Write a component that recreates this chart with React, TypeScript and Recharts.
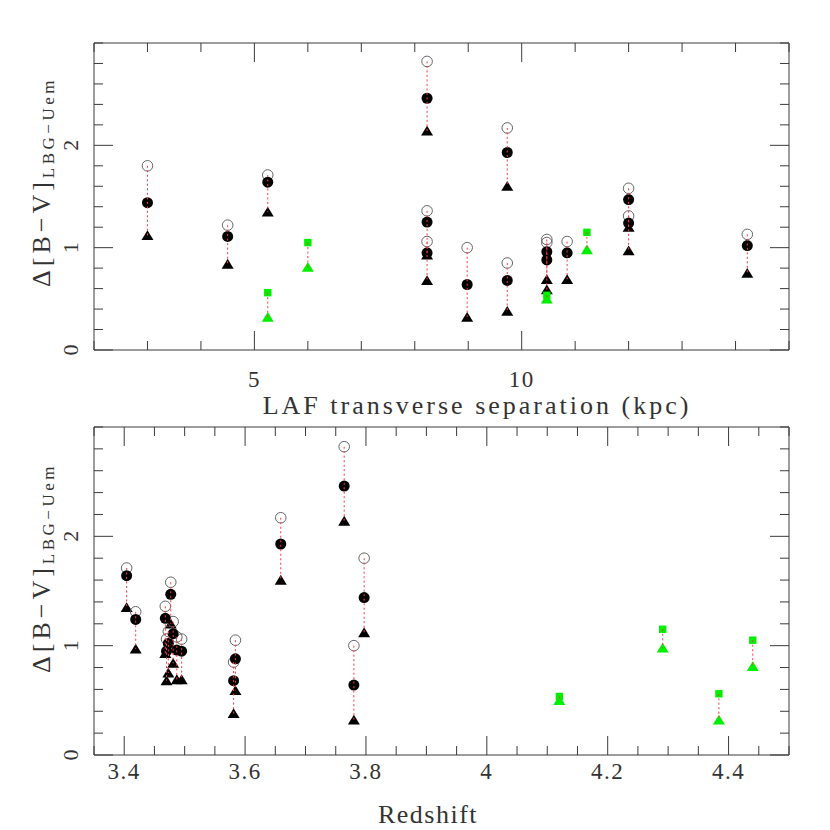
import React from "react";
import { ScatterChart, Scatter, XAxis, YAxis } from "recharts";

// one entry per LBG-absorber pair (black symbols)
const separation = [3.0, 4.5, 5.25, 8.23, 8.23, 8.23, 8.98, 9.73, 9.73, 10.47, 10.47, 10.85, 12.0, 12.0, 14.22];
const redshift = [3.797, 3.481, 3.404, 3.764, 3.468, 3.47, 3.78, 3.659, 3.581, 3.584, 3.487, 3.495, 3.477, 3.419, 3.473];
const openValues = [1.8, 1.22, 1.71, 2.82, 1.36, 1.06, 1.0, 2.17, 0.85, 1.05, 1.08, 1.06, 1.58, 1.31, 1.13];
const filledValues = [1.44, 1.11, 1.64, 2.46, 1.25, 0.95, 0.64, 1.93, 0.68, 0.88, 0.96, 0.95, 1.47, 1.24, 1.02];
const triangleValues = [1.12, 0.84, 1.35, 2.14, 0.93, 0.68, 0.32, 1.6, 0.38, 0.59, 0.69, 0.69, 1.2, 0.97, 0.75];

// green symbols
const greenSeparation = [5.25, 6.0, 10.47, 11.22];
const greenRedshift = [4.384, 4.44, 4.12, 4.291];
const greenSquareValues = [0.56, 1.05, 0.535, 1.15];
const greenTriangleValues = [0.32, 0.81, 0.5, 0.98];

const sepTicks = [2, 3, 4, 5, 6, 7, 8, 9, 10, 11, 12, 13, 14, 15];
const sepLabels = [5, 10];
const zTicks = [
  3.35, 3.4, 3.45, 3.5, 3.55, 3.6, 3.65, 3.7, 3.75, 3.8, 3.85, 3.9, 3.95, 4.0,
  4.05, 4.1, 4.15, 4.2, 4.25, 4.3, 4.35, 4.4, 4.45, 4.5,
];
const zLabels = [3.4, 3.6, 3.8, 4, 4.2, 4.4];
const colorTicks = [0, 0.2, 0.4, 0.6, 0.8, 1, 1.2, 1.4, 1.6, 1.8, 2, 2.2, 2.4, 2.6, 2.8, 3];
const colorLabels = [0, 1, 2];

const FRAME = "#3a3a3a";
const FONT = "Liberation Serif, Times New Roman, serif";
const GREEN = "#00f000";
const DOTTED = "#ff3b3b";

const isLabel = (labels: number[], v: number) => labels.some((l) => Math.abs(l - v) < 1e-6);

const OpenCircle = (p: any) => (
  <circle cx={p.cx} cy={p.cy} r={5.3} fill="none" stroke="#555" strokeWidth={0.9} />
);
const FilledCircle = (p: any) => <circle cx={p.cx} cy={p.cy} r={5.5} fill="#000" />;
const Triangle = (color: string) => (p: any) => (
  <polygon
    points={`${p.cx},${p.cy - 5.2} ${p.cx - 6},${p.cy + 4.6} ${p.cx + 6},${p.cy + 4.6}`}
    fill={color}
  />
);
const Square = (p: any) => (
  <rect x={p.cx - 3.7} y={p.cy - 3.7} width={7.4} height={7.4} fill={GREEN} />
);
const Nothing = () => <g />;

const bottomTick = (labels: number[], dy: number) => (p: any) => {
  const major = isLabel(labels, p.payload.value);
  return (
    <g>
      <line x1={p.x} y1={p.y} x2={p.x} y2={p.y - (major ? 19 : 9)} stroke={FRAME} />
      {major && (
        <text x={p.x} y={p.y + dy} textAnchor="middle" fontFamily={FONT} fontSize={23} letterSpacing={1.5} fill="#333">
          {p.payload.value}
        </text>
      )}
    </g>
  );
};
const topTick = (labels: number[]) => (p: any) => {
  const major = isLabel(labels, p.payload.value);
  return <line x1={p.x} y1={p.y} x2={p.x} y2={p.y + (major ? 19 : 9)} stroke={FRAME} />;
};
const leftTick = (p: any) => {
  const major = isLabel(colorLabels, p.payload.value);
  const tx = p.x - 16;
  return (
    <g>
      <line x1={p.x} y1={p.y} x2={p.x + (major ? 19 : 9)} y2={p.y} stroke={FRAME} />
      {major && (
        <text x={tx} y={p.y} transform={`rotate(-90 ${tx} ${p.y})`} textAnchor="middle" fontFamily={FONT} fontSize={22} fill="#333">
          {p.payload.value}
        </text>
      )}
    </g>
  );
};
const rightTick = (p: any) => {
  const major = isLabel(colorLabels, p.payload.value);
  return <line x1={p.x} y1={p.y} x2={p.x - (major ? 19 : 9)} y2={p.y} stroke={FRAME} />;
};

const yTitle = (fromBottom: number) => (p: any) => {
  const vb = p.viewBox;
  const x = vb.x + vb.width - 44;
  const y = vb.y + vb.height - fromBottom;
  return (
    <text x={x} y={y} transform={`rotate(-90 ${x} ${y})`} fontFamily={FONT} fill="#333">
      <tspan fontSize={26} letterSpacing={4}>Δ[B−V]</tspan>
      <tspan fontSize={17} letterSpacing={3.5} dy={4}>LBG−Uem</tspan>
    </text>
  );
};
const xTitle = (text: string, cx: number, dy: number, spacing: number) => (p: any) => (
  <text x={cx} y={p.viewBox.y + dy} textAnchor="middle" fontFamily={FONT} fontSize={26} letterSpacing={spacing} fill="#333">
    {text}
  </text>
);

interface PanelProps {
  xs: number[];
  greenXs: number[];
  domain: [number, number];
  ticks: number[];
  labels: number[];
  title: string;
  titleX: number;
  titleDy: number;
  titleSpacing: number;
  tickDy: number;
  height: number;
  margin: { top: number; right: number; bottom: number; left: number };
  yFromBottom: number;
}

function Panel(props: PanelProps) {
  const { xs, greenXs } = props;
  const open = xs.map((x, i) => ({ x, y: openValues[i] }));
  const filled = xs.map((x, i) => ({ x, y: filledValues[i] }));
  const tri = xs.map((x, i) => ({ x, y: triangleValues[i] }));
  const sq = greenXs.map((x, i) => ({ x, y: greenSquareValues[i] }));
  const gtri = greenXs.map((x, i) => ({ x, y: greenTriangleValues[i] }));
  return (
    <ScatterChart width={830} height={props.height} margin={props.margin} style={{ overflow: "visible" }}>
      <XAxis
        xAxisId="b"
        dataKey="x"
        type="number"
        domain={props.domain}
        ticks={props.ticks}
        interval={0}
        allowDataOverflow
        height={30}
        tickSize={0}
        tickMargin={0}
        tickLine={false}
        axisLine={{ stroke: FRAME }}
        tick={bottomTick(props.labels, props.tickDy)}
        label={{ content: xTitle(props.title, props.titleX, props.titleDy, props.titleSpacing) }}
      />
      <XAxis
        xAxisId="t"
        dataKey="x"
        orientation="top"
        type="number"
        domain={props.domain}
        ticks={props.ticks}
        interval={0}
        allowDataOverflow
        height={1}
        tickSize={0}
        tickMargin={0}
        tickLine={false}
        axisLine={{ stroke: FRAME }}
        tick={topTick(props.labels)}
      />
      <YAxis
        yAxisId="l"
        dataKey="y"
        type="number"
        domain={[0, 3]}
        ticks={colorTicks}
        interval={0}
        allowDataOverflow
        width={60}
        tickSize={0}
        tickMargin={0}
        tickLine={false}
        axisLine={{ stroke: FRAME }}
        tick={leftTick}
        label={{ content: yTitle(props.yFromBottom) }}
      />
      <YAxis
        yAxisId="r"
        dataKey="y"
        orientation="right"
        type="number"
        domain={[0, 3]}
        ticks={colorTicks}
        interval={0}
        allowDataOverflow
        width={1}
        tickSize={0}
        tickMargin={0}
        tickLine={false}
        axisLine={{ stroke: FRAME }}
        tick={rightTick}
      />
      <Scatter xAxisId="t" yAxisId="r" data={filled} shape={Nothing} isAnimationActive={false} />
      <Scatter xAxisId="b" yAxisId="l" data={tri} shape={Triangle("#000")} isAnimationActive={false} />
      <Scatter xAxisId="b" yAxisId="l" data={open} shape={OpenCircle} isAnimationActive={false} />
      <Scatter xAxisId="b" yAxisId="l" data={filled} shape={FilledCircle} isAnimationActive={false} />
      <Scatter xAxisId="b" yAxisId="l" data={gtri} shape={Triangle(GREEN)} isAnimationActive={false} />
      <Scatter xAxisId="b" yAxisId="l" data={sq} shape={Square} isAnimationActive={false} />
      {xs.map((x, i) => (
        <Scatter
          key={`c${i}`}
          xAxisId="b"
          yAxisId="l"
          data={[
            { x, y: openValues[i] },
            { x, y: triangleValues[i] },
          ]}
          shape={Nothing}
          line={{ stroke: DOTTED, strokeWidth: 1, strokeDasharray: "2 2.5" }}
          isAnimationActive={false}
        />
      ))}
      {greenXs.map((x, i) => (
        <Scatter
          key={`g${i}`}
          xAxisId="b"
          yAxisId="l"
          data={[
            { x, y: greenSquareValues[i] },
            { x, y: greenTriangleValues[i] },
          ]}
          shape={Nothing}
          line={{ stroke: DOTTED, strokeWidth: 1, strokeDasharray: "2 2.5" }}
          isAnimationActive={false}
        />
      ))}
    </ScatterChart>
  );
}

export default function App() {
  return (
    <div style={{ position: "absolute", left: 0, top: 0, width: 830, height: 830, background: "#fff" }}>
      <div style={{ position: "absolute", left: 0, top: 0 }}>
        <Panel
          xs={separation}
          greenXs={greenSeparation}
          domain={[2, 15]}
          ticks={sepTicks}
          labels={sepLabels}
          title="LAF transverse separation (kpc)"
          titleX={477}
          titleDy={64}
          titleSpacing={3}
          tickDy={37}
          height={425}
          margin={{ top: 42, right: 40, bottom: 45, left: 34 }}
          yFromBottom={63}
        />
      </div>
      <div style={{ position: "absolute", left: 0, top: 415 }}>
        <Panel
          xs={redshift}
          greenXs={greenRedshift}
          domain={[3.35, 4.5]}
          ticks={zTicks}
          labels={zLabels}
          title="Redshift"
          titleX={428}
          titleDy={68}
          titleSpacing={1.5}
          tickDy={24}
          height={415}
          margin={{ top: 11, right: 40, bottom: 45, left: 34 }}
          yFromBottom={82}
        />
      </div>
    </div>
  );
}
